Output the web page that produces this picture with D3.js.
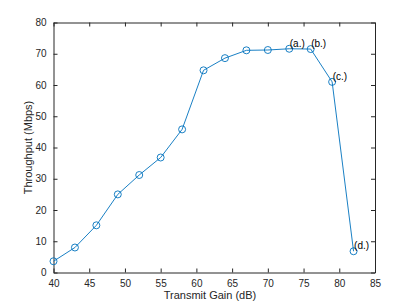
<html>
<head>
<style>
body { margin: 0; background: #fff; }
text { font-family: "Liberation Sans", Arial, sans-serif; }
</style>
</head>
<body>
<svg></svg>
<script src="https://cdn.jsdelivr.net/npm/d3@7/dist/d3.min.js"></script>
<script>
var gain = [40, 43, 46, 49, 52, 55, 58, 61, 64, 67, 70, 73, 76, 79, 82];
var throughput = [3.6, 8.0, 15.1, 25.0, 31.2, 36.8, 45.8, 64.7, 68.6, 71.1, 71.2, 71.6, 71.5, 61.0, 6.8];
var notes = [
  {i: 11, label: "(a.)"},
  {i: 12, label: "(b.)"},
  {i: 13, label: "(c.)"},
  {i: 14, label: "(d.)"}
];
var xTicks = [40, 45, 50, 55, 60, 65, 70, 75, 80, 85];
var yTicks = [0, 10, 20, 30, 40, 50, 60, 70, 80];

var width = 415, height = 306;
// plot box edges (note: "top" is reserved on window)
var pLeft = 53.5, pRight = 375, pTop = 22.5, pBottom = 272.5;
var axisColor = "#262626", lineColor = "#0072BD";

var svg = d3.select("svg")
    .attr("width", width)
    .attr("height", height);

var x = d3.scaleLinear().domain([40, 85]).range([pLeft, pRight]);
var y = d3.scaleLinear().domain([0, 80]).range([pBottom, pTop]);

// box with ticks on all sides, matlab style
function styleAxis(g) {
  g.select(".domain").attr("stroke", axisColor);
  g.selectAll(".tick line").attr("stroke", axisColor);
  g.selectAll(".tick text").attr("fill", axisColor).style("font-size", "10px");
}

svg.append("g")
    .attr("transform", "translate(0," + pBottom + ")")
    .call(d3.axisBottom(x).tickValues(xTicks).tickSizeInner(-4).tickSizeOuter(0).tickPadding(7))
    .call(styleAxis);
svg.append("g")
    .attr("transform", "translate(0," + pTop + ")")
    .call(d3.axisTop(x).tickValues(xTicks).tickSizeInner(-4).tickSizeOuter(0).tickFormat(""))
    .call(styleAxis);
svg.append("g")
    .attr("transform", "translate(" + pLeft + ",0)")
    .call(d3.axisLeft(y).tickValues(yTicks).tickSizeInner(-4).tickSizeOuter(0).tickPadding(7))
    .call(styleAxis);
svg.append("g")
    .attr("transform", "translate(" + pRight + ",0)")
    .call(d3.axisRight(y).tickValues(yTicks).tickSizeInner(-4).tickSizeOuter(0).tickFormat(""))
    .call(styleAxis);

var line = d3.line()
    .x(function(d, i) { return x(gain[i]); })
    .y(function(d) { return y(d); });

svg.append("path")
    .datum(throughput)
    .attr("d", line)
    .attr("fill", "none")
    .attr("stroke", lineColor)
    .attr("stroke-width", 0.9);

svg.selectAll("circle.pt")
    .data(throughput)
  .enter().append("circle")
    .attr("class", "pt")
    .attr("cx", function(d, i) { return x(gain[i]); })
    .attr("cy", function(d) { return y(d); })
    .attr("r", 3.5)
    .attr("fill", "none")
    .attr("stroke", lineColor)
    .attr("stroke-width", 0.9);

svg.selectAll("text.note")
    .data(notes)
  .enter().append("text")
    .attr("class", "note")
    .attr("x", function(d) { return x(gain[d.i]) + 0.5; })
    .attr("y", function(d) { return y(throughput[d.i]) - 2; })
    .attr("fill", "#000")
    .style("font-size", "10px")
    .text(function(d) { return d.label; });

svg.append("text")
    .attr("x", 210)
    .attr("y", 299)
    .attr("text-anchor", "middle")
    .attr("fill", axisColor)
    .style("font-size", "11px")
    .text("Transmit Gain (dB)");

svg.append("text")
    .attr("transform", "translate(32," + (pTop + pBottom) / 2 + ") rotate(-90)")
    .attr("text-anchor", "middle")
    .attr("fill", axisColor)
    .style("font-size", "11px")
    .text("Throughput (Mbps)");
</script>
</body>
</html>
